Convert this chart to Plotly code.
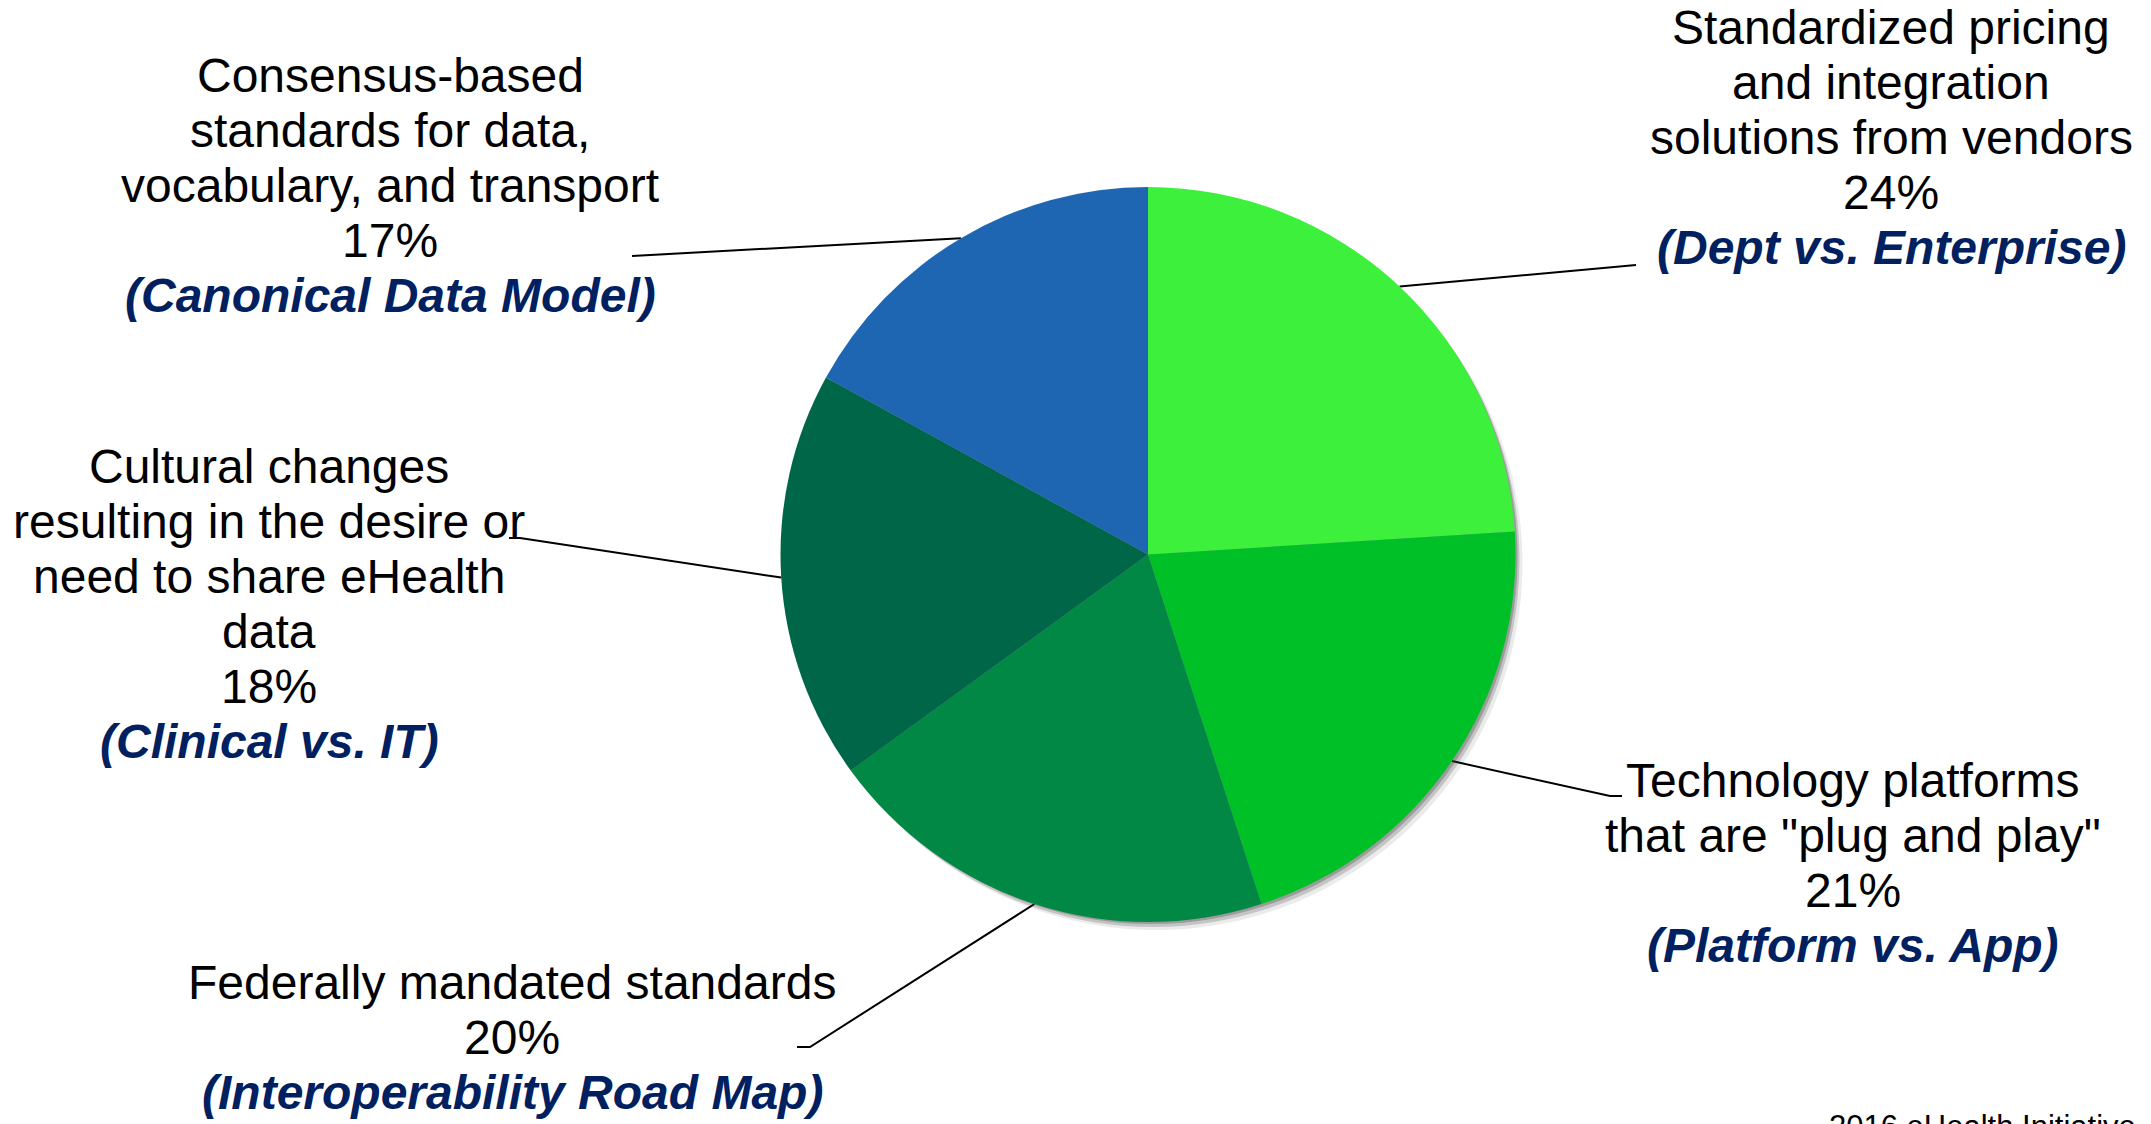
import math
import plotly.graph_objects as go

# Survey shares, listed clockwise from 12 o'clock
descriptions = [
    ["Standardized pricing", "and integration", "solutions from vendors"],
    ["Technology platforms", 'that are "plug and play"'],
    ["Federally mandated standards"],
    ["Cultural changes", "resulting in the desire or", "need to share eHealth", "data"],
    ["Consensus-based", "standards for data,", "vocabulary, and transport"],
]
shares = [24, 21, 20, 18, 17]
themes = [
    "(Dept vs. Enterprise)",
    "(Platform vs. App)",
    "(Interoperability Road Map)",
    "(Clinical vs. IT)",
    "(Canonical Data Model)",
]
source_note = "2016 eHealth Initiative"

# ---- styling / layout -------------------------------------------------------
W, H = 2151, 1124
slice_colors = ["#3DF03B", "#00C028", "#008844", "#006648", "#1F66B2"]
theme_color = "#002060"
FONT = "Liberation Sans, Arial, sans-serif"
FS = 48
LINE_STEP = 55

CX, CY, R = 1148, 554.5, 367.5          # pie centre / radius in pixels

# label block placement (centre x, first line y) and leader-line route
label_x = [1891, 1853, 512, 269, 390]
label_y0 = [27, 780.5, 982, 466, 75.5]
leader_route = [
    [(1625, 265.5), (1636, 265)],
    [(1610, 796), (1622, 796)],
    [(810, 1047), (797, 1047)],
    [(520, 538), (509, 538)],
    [(640, 255.5), (632, 256)],
]


def pie_domain(cx, cy, r):
    return dict(x=[(cx - r) / W, (cx + r) / W],
                y=[1 - (cy + r) / H, 1 - (cy - r) / H])


fig = go.Figure()

# soft drop shadow under the pie
for (dx, dy, a) in [(8, 9, 0.10), (5, 6, 0.22), (3, 3, 0.30)]:
    fig.add_trace(go.Pie(
        values=shares, sort=False, direction="clockwise", rotation=0,
        marker=dict(colors=[f"rgba(60,60,60,{a})"] * len(shares), line=dict(width=0)),
        textinfo="none", hoverinfo="skip", showlegend=False,
        domain=pie_domain(CX + dx, CY + dy, R - 1),
    ))

fig.add_trace(go.Pie(
    values=shares, labels=[" ".join(d) for d in descriptions],
    sort=False, direction="clockwise", rotation=0,
    marker=dict(colors=slice_colors, line=dict(width=0)),
    textinfo="none", hoverinfo="label+percent", showlegend=False,
    domain=pie_domain(CX, CY, R),
))

# leader lines: from the rim at each slice's mid-angle to its label
total = sum(shares)
acc = 0
annotations = []
for i, v in enumerate(shares):
    mid = (acc + v / 2) / total * 2 * math.pi
    acc += v
    sx = CX + R * math.sin(mid)
    sy = CY - R * math.cos(mid)
    pts = [(sx, sy)] + leader_route[i]
    fig.add_trace(go.Scatter(
        x=[p[0] for p in pts], y=[p[1] for p in pts], mode="lines",
        line=dict(color="black", width=2), hoverinfo="skip", showlegend=False,
        xaxis="x", yaxis="y",
    ))

    lines = [(t, "black", False) for t in descriptions[i]]
    lines.append((f"{v}%", "black", False))
    lines.append((themes[i], theme_color, True))
    for k, (txt, col, emph) in enumerate(lines):
        annotations.append(dict(
            x=label_x[i], y=label_y0[i] + k * LINE_STEP, xref="x", yref="y",
            text=f"<b><i>{txt}</i></b>" if emph else txt,
            showarrow=False, xanchor="center", yanchor="middle",
            font=dict(family=FONT, size=FS, color=col),
        ))

annotations.append(dict(
    x=1828, y=1108, xref="x", yref="y", text=source_note,
    showarrow=False, xanchor="left", yanchor="top", borderpad=0,
    font=dict(family=FONT, size=31, color="black"),
))

fig.update_layout(
    width=W, height=H,
    margin=dict(l=0, r=0, t=0, b=0),
    paper_bgcolor="white", plot_bgcolor="rgba(0,0,0,0)",
    xaxis=dict(range=[0, W], visible=False, domain=[0, 1], fixedrange=True),
    yaxis=dict(range=[H, 0], visible=False, domain=[0, 1], fixedrange=True),
    annotations=annotations,
    showlegend=False,
)

fig.write_html("out.html", config={"displayModeBar": False})
